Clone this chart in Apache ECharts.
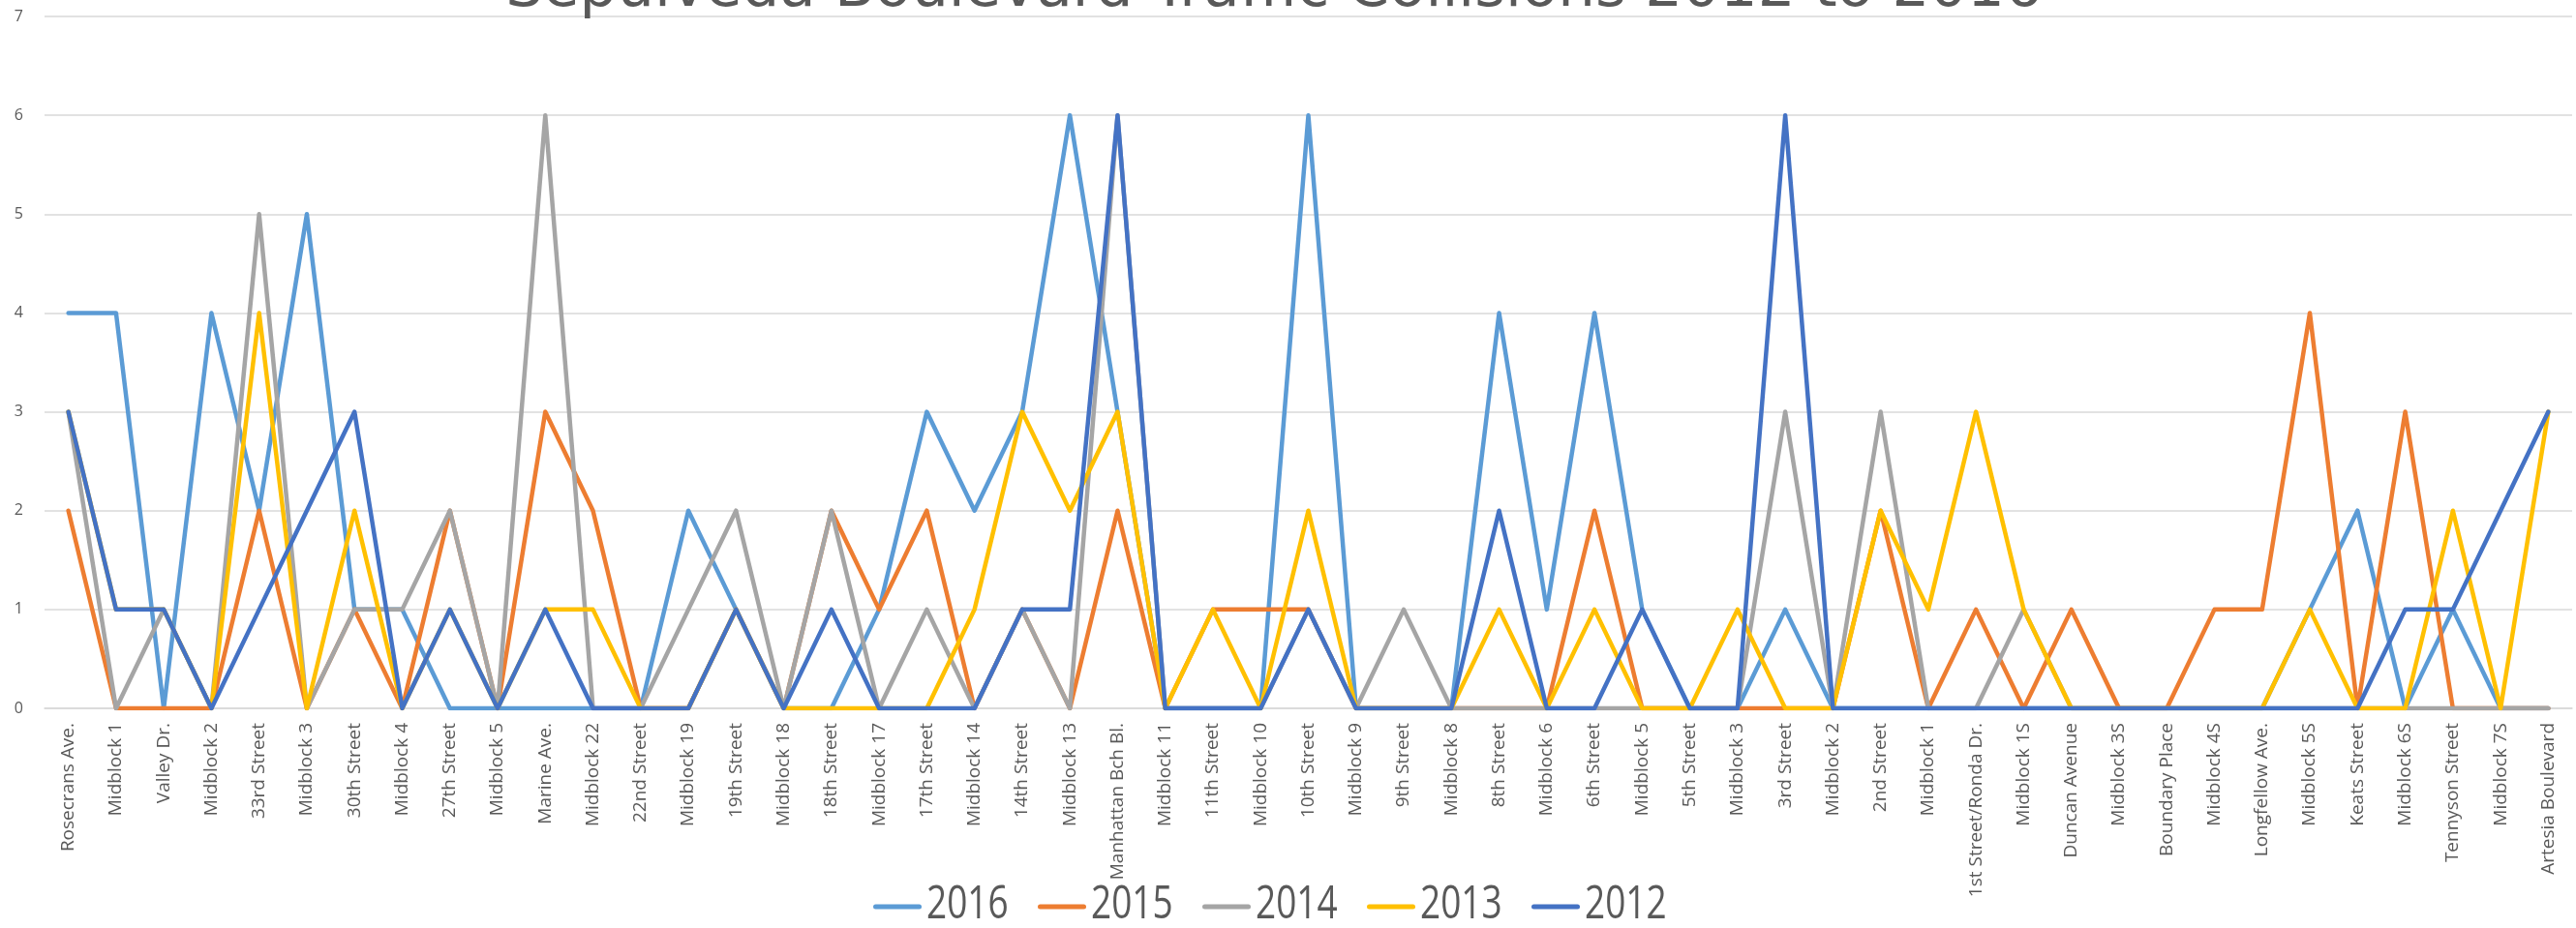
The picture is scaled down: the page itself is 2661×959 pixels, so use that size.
<!DOCTYPE html>
<html>
<head>
<meta charset="utf-8">
<script src="https://cdn.jsdelivr.net/npm/echarts@6/dist/echarts.min.js"></script>
<style>
html,body{margin:0;padding:0;background:#fff;}
#chart{width:2661px;height:959px;}
</style>
</head>
<body>
<div id="chart"></div>
<script>
var titleText = 'Sepulveda Boulevard Traffic Collisions 2012 to 2016';
var categories = ['Rosecrans Ave.','Midblock 1','Valley Dr.','Midblock 2','33rd Street','Midblock 3','30th Street','Midblock 4','27th Street','Midblock 5','Marine Ave.','Midblock 22','22nd Street','Midblock 19','19th Street','Midblock 18','18th Street','Midblock 17','17th Street','Midblock 14','14th Street','Midblock 13','Manhattan Bch Bl.','Midblock 11','11th Street','Midblock 10','10th Street','Midblock 9','9th Street','Midblock 8','8th Street','Midblock 6','6th Street','Midblock 5','5th Street','Midblock 3','3rd Street','Midblock 2','2nd Street','Midblock 1','1st Street/Ronda Dr.','Midblock 1S','Duncan Avenue','Midblock 3S','Boundary Place','Midblock 4S','Longfellow Ave.','Midblock 5S','Keats Street','Midblock 6S','Tennyson Street','Midblock 7S','Artesia Boulevard'];
var seriesNames = ['2016','2015','2014','2013','2012'];
var y2016 = [4,4,0,4,2,5,1,1,0,0,0,0,0,2,1,0,0,1,3,2,3,6,3,0,0,0,6,0,0,0,4,1,4,1,0,0,1,0,0,0,0,0,0,0,0,0,0,1,2,0,1,0,0];
var y2015 = [2,0,0,0,2,0,1,0,2,0,3,2,0,0,1,0,2,1,2,0,1,0,2,0,1,1,1,0,0,0,0,0,2,0,0,0,0,0,2,0,1,0,1,0,0,1,1,4,0,3,0,0,0];
var y2014 = [3,0,1,0,5,0,1,1,2,0,6,0,0,1,2,0,2,0,1,0,1,0,6,0,0,0,1,0,1,0,0,0,0,0,0,0,3,0,3,0,0,1,0,0,0,0,0,0,0,0,0,0,0];
var y2013 = [3,1,1,0,4,0,2,0,1,0,1,1,0,0,1,0,0,0,0,1,3,2,3,0,1,0,2,0,0,0,1,0,1,0,0,1,0,0,2,1,3,1,0,0,0,0,0,1,0,0,2,0,3];
var y2012 = [3,1,1,0,1,2,3,0,1,0,1,0,0,0,1,0,1,0,0,0,1,1,6,0,0,0,1,0,0,0,2,0,0,1,0,0,6,0,0,0,0,0,0,0,0,0,0,0,0,1,1,2,3];
var yTicks = {min:0, max:7, interval:1};
var colors = ['#5B9BD5','#ED7D31','#A5A5A5','#FFC000','#4472C4'];

var dataSets = [y2016, y2015, y2014, y2013, y2012];
var chart = echarts.init(document.getElementById('chart'), null, {renderer:'canvas'});
var series = seriesNames.map(function(n, i){
  return {
    name: n, type: 'line', data: dataSets[i],
    symbol: 'none', showSymbol: false, smooth: false,
    lineStyle: {width: 4.5, color: colors[i], cap: 'round', join: 'round'},
    itemStyle: {color: colors[i]},
    emphasis: {disabled: true}
  };
});
// legend drawn as graphic so the condensed-looking text can be reproduced
var legendGraphics = [];
seriesNames.forEach(function(n, i){
  var x0 = 902 + 170 * i;
  legendGraphics.push({
    type: 'line', silent: true,
    shape: {x1: x0 + 2.5, y1: 937, x2: x0 + 47.5, y2: 937},
    style: {stroke: colors[i], lineWidth: 5, lineCap: 'round'}
  });
  legendGraphics.push({
    type: 'text', silent: true, x: x0 + 55, y: 936, scaleY: 1.27,
    style: {text: n, fontFamily: 'Open Sans', fontSize: 37, fill: '#595959', verticalAlign: 'middle', align: 'left'}
  });
});
chart.setOption({
  animation: false,
  color: colors,
  title: {
    text: titleText, left: 1311, top: -45, textAlign: 'center',
    textStyle: {fontFamily: 'DejaVu Sans', fontSize: 61, fontWeight: 'normal', color: '#595959'}
  },
  legend: {show: false, data: seriesNames},
  graphic: legendGraphics,
  grid: {left: 46, right: 4, top: 17, bottom: 227, containLabel: false},
  xAxis: {
    type: 'category', data: categories, boundaryGap: true,
    axisLine: {show: true, lineStyle: {color: '#d9d9d9', width: 1.5}},
    axisTick: {show: false},
    axisLabel: {interval: 0, rotate: 90, margin: 15, fontFamily: 'Open Sans', fontSize: 19, color: '#595959'}
  },
  yAxis: {
    type: 'value', min: yTicks.min, max: yTicks.max, interval: yTicks.interval,
    axisLine: {show: false}, axisTick: {show: false},
    axisLabel: {margin: 22, fontFamily: 'Open Sans', fontSize: 16, color: '#595959'},
    splitLine: {lineStyle: {color: '#d9d9d9', width: 1.5}}
  },
  series: series
});
</script>
</body>
</html>
